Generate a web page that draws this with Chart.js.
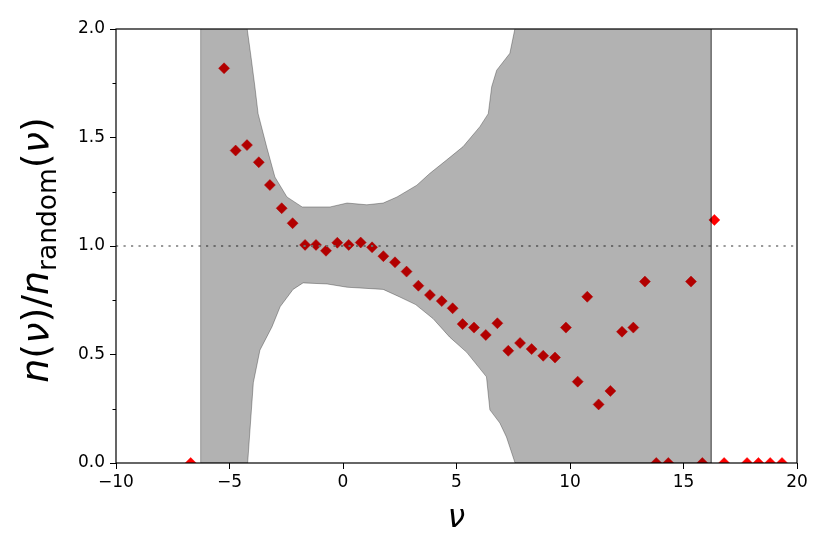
<!DOCTYPE html>
<html>
<head>
<meta charset="utf-8">
<script src="https://cdn.jsdelivr.net/npm/chart.js@4.4.0/dist/chart.umd.min.js"></script>
<style>
  html, body { margin: 0; padding: 0; background: #fff; }
  #wrap { width: 831px; height: 554px; }
</style>
</head>
<body>
<div id="wrap"><canvas id="chart"></canvas></div>
<script>
// measured ratio n(nu)/n_random(nu)
const nuValues = [-6.71, -5.24, -4.73, -4.23, -3.71, -3.22, -2.70, -2.22, -1.67, -1.19,
  -0.75, -0.25, 0.25, 0.78, 1.28, 1.78, 2.29, 2.80, 3.32, 3.83,
  4.35, 4.83, 5.27, 5.77, 6.29, 6.80, 7.28, 7.80, 8.31, 8.82,
  9.34, 9.82, 10.34, 10.76, 11.26, 11.78, 12.29, 12.79, 13.30, 13.80,
  14.33, 15.33, 15.83, 16.36, 16.79, 17.80, 18.30, 18.82, 19.34];
const ratioValues = [0, 1.819, 1.44, 1.465, 1.386, 1.281, 1.174, 1.105, 1.005, 1.005,
  0.978, 1.015, 1.005, 1.016, 0.994, 0.953, 0.925, 0.882, 0.817, 0.774,
  0.746, 0.713, 0.64, 0.624, 0.59, 0.644, 0.517, 0.553, 0.525, 0.494,
  0.486, 0.624, 0.375, 0.766, 0.27, 0.332, 0.605, 0.624, 0.836, 0,
  0, 0.836, 0, 1.12, 0, 0, 0, 0, 0];

// random expectation band (upper / lower edge)
const upperX = [-6.27, -4.4, -4.22, -4.05, -3.88, -3.74, -3.36, -3.0, -2.47, -1.8,
  -0.57, 0.18, 1.05, 1.77, 2.38, 3.25, 3.83, 4.56, 5.29, 6.03,
  6.4, 6.55, 6.77, 7.35, 7.57, 7.75, 16.22];
const upperY = [2.4, 2.4, 2.0, 1.87, 1.733, 1.61, 1.456, 1.318, 1.226, 1.18,
  1.18, 1.198, 1.19, 1.198, 1.226, 1.28, 1.335, 1.396, 1.458, 1.55,
  1.61, 1.734, 1.81, 1.888, 2.0, 2.4, 2.4];
const lowerX = [-6.27, -4.2, -3.95, -3.66, -3.13, -2.77, -2.2, -1.76, -0.7, 0.18,
  1.77, 2.5, 3.2, 3.97, 4.7, 5.45, 6.32, 6.47, 6.91, 7.2, 7.58, 16.22];
const lowerY = [0, 0, 0.37, 0.52, 0.627, 0.72, 0.80, 0.83, 0.825, 0.81,
  0.80, 0.765, 0.73, 0.665, 0.58, 0.51, 0.397, 0.245, 0.184, 0.12, 0, 0];

const refLevel = 1.0;
const xRange = [-10, 20];
const yRange = [0, 2];
const xTickValues = [-10, -5, 0, 5, 10, 15, 20];
const yTickValues = [0, 0.5, 1.0, 1.5, 2.0];
const yMinorTicks = [0.25, 0.75, 1.25, 1.75];

const FONT = '"DejaVu Sans", sans-serif';

// band as one closed shape: upper edge left->right, lower edge back
const bandShape = upperX.map((x, i) => ({ x, y: upperY[i] }))
  .concat(lowerX.map((x, i) => ({ x, y: lowerY[i] })).reverse());
bandShape.push(bandShape[0]);

const fmtTick = (v) => (v < 0 ? "\u2212" + Math.abs(v) : String(v));

// frame, minor ticks and the math style axis labels
const decorations = {
  id: "decorations",
  afterDatasetsDraw(chart) {
    const { ctx, chartArea: a } = chart;
    ctx.save();
    ctx.strokeStyle = "#000";
    ctx.lineWidth = 1.2;
    ctx.strokeRect(a.left, a.top, a.right - a.left, a.bottom - a.top);
    const y = chart.scales.y;
    ctx.lineWidth = 1;
    yMinorTicks.forEach((v) => {
      const py = Math.round(y.getPixelForValue(v)) + 0.5;
      ctx.beginPath();
      ctx.moveTo(a.left - 3.5, py);
      ctx.lineTo(a.left, py);
      ctx.stroke();
    });
    ctx.restore();
  },
  afterDraw(chart) {
    const { ctx, chartArea: a } = chart;
    ctx.save();
    ctx.fillStyle = "#000";
    ctx.textBaseline = "alphabetic";

    ctx.font = "italic 31px " + FONT;
    ctx.textAlign = "center";
    ctx.fillText("\u03bd", (a.left + a.right) / 2, 527);

    const big = 38, small = 26.5;
    const parts = [
      { t: "n", it: true }, { t: "(" }, { t: "\u03bd", it: true }, { t: ")" },
      { t: "/" }, { t: "n", it: true }, { t: "random", sub: true },
      { t: "(" }, { t: "\u03bd", it: true }, { t: ")" },
    ];
    const fontOf = (p) => (p.it ? "italic " : "") + (p.sub ? small : big) + "px " + FONT;
    let total = 0;
    parts.forEach((p) => {
      ctx.font = fontOf(p);
      p.w = ctx.measureText(p.t).width;
      total += p.w;
    });
    ctx.translate(48, (a.top + a.bottom) / 2 + 4);
    ctx.rotate(-Math.PI / 2);
    ctx.textAlign = "left";
    let cx = -total / 2;
    parts.forEach((p) => {
      ctx.font = fontOf(p);
      ctx.fillText(p.t, cx, p.sub ? 8 : 0);
      cx += p.w;
    });
    ctx.restore();
  },
};

const config = {
  type: "scatter",
  data: {
    datasets: [
      {
        type: "line",
        data: bandShape,
        fill: "shape",
        backgroundColor: "rgba(0, 0, 0, 0.3)",
        borderColor: "rgba(0, 0, 0, 0.3)",
        borderWidth: 1,
        pointRadius: 0,
        tension: 0,
        order: 0,
      },
      {
        type: "line",
        data: xRange.map((x) => ({ x, y: refLevel })),
        borderColor: "#9a9a9a",
        borderWidth: 2.1,
        borderDash: [2.2, 5.3],
        pointRadius: 0,
        fill: false,
        order: 1,
      },
      {
        data: nuValues.map((x, i) => ({ x, y: ratioValues[i] })),
        pointStyle: "rectRot",
        pointRadius: 5.5,
        pointBackgroundColor: "#ff0000",
        pointBorderColor: "#ff0000",
        pointBorderWidth: 0.5,
        clip: 0,
        order: 2,
      },
    ],
  },
  options: {
    responsive: true,
    maintainAspectRatio: false,
    animation: false,
    layout: { padding: { left: 0, right: 34, top: 29, bottom: 0 } },
    plugins: { legend: { display: false }, tooltip: { enabled: false } },
    scales: {
      x: {
        type: "linear",
        min: xRange[0],
        max: xRange[1],
        afterBuildTicks: (s) => { s.ticks = xTickValues.map((value) => ({ value })); },
        afterFit: (s) => { s.height = 91; },
        grid: { drawOnChartArea: false, tickLength: 6, tickColor: "#000", tickWidth: 1 },
        border: { display: false },
        ticks: {
          color: "#000",
          padding: 3,
          maxRotation: 0,
          font: { family: FONT, size: 17 },
          callback: (v) => fmtTick(v),
        },
      },
      y: {
        type: "linear",
        min: yRange[0],
        max: yRange[1],
        afterBuildTicks: (s) => { s.ticks = yTickValues.map((value) => ({ value })); },
        afterFit: (s) => { s.width = 116; },
        grid: { drawOnChartArea: false, tickLength: 6, tickColor: "#000", tickWidth: 1 },
        border: { display: false },
        ticks: {
          color: "#000",
          padding: 5,
          font: { family: FONT, size: 17 },
          callback: (v) => v.toFixed(1),
        },
      },
    },
  },
  plugins: [decorations],
};

const theChart = new Chart(document.querySelector("#chart"), config);
</script>
</body>
</html>
